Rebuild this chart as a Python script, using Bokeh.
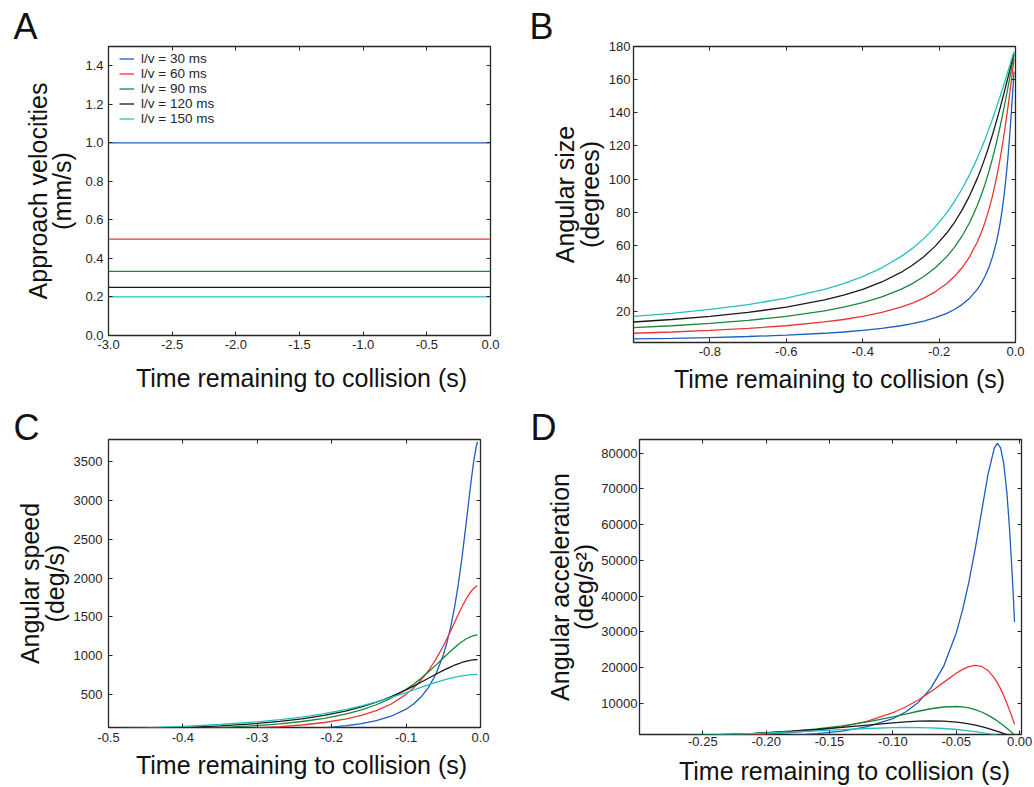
from bokeh.plotting import figure
from bokeh.layouts import column, row
from bokeh.models import (Range1d, FixedTicker, Legend, LegendItem, Label,
                          LinearAxis, NumeralTickFormatter)
from bokeh.embed import file_html
from bokeh.resources import INLINE

FONT = "Liberation Sans"
INK = "#262626"

# ---------------- data ----------------
series_names = ["l/v = 30 ms", "l/v = 60 ms", "l/v = 90 ms", "l/v = 120 ms", "l/v = 150 ms"]
colors = ["#1f5cbf", "#ee3535", "#17883c", "#1a1a1a", "#22c0c0"]

# Panel A: approach velocities (mm/s)
t_a = [-3.0, 0.0]
velocity = [1.0, 0.5, 0.333, 0.25, 0.2]

# Panel B: angular size (degrees)
t_b = [-1.0, -0.9, -0.8, -0.7, -0.6, -0.5, -0.45, -0.4, -0.35, -0.3, -0.27, -0.24,
       -0.21, -0.18, -0.16, -0.14, -0.12, -0.10, -0.09, -0.08, -0.07, -0.06, -0.05,
       -0.045, -0.04, -0.035, -0.03, -0.025, -0.02, -0.0175, -0.015, -0.0125, -0.01,
       -0.008, -0.006, -0.005, -0.004]
theta_30 = [3.44, 3.82, 4.30, 4.91, 5.73, 6.87, 7.63, 8.58, 9.80, 11.42, 12.68, 14.25,
            16.26, 18.93, 21.24, 24.19, 28.07, 33.40, 36.87, 41.11, 46.40, 53.13, 61.93,
            67.38, 73.74, 81.20, 90.00, 100.39, 112.62, 119.49, 126.87, 134.76, 143.13,
            150.14, 157.38, 161.08, 164.81]
theta_60 = [6.87, 7.63, 8.58, 9.80, 11.42, 13.69, 15.19, 17.06, 19.46, 22.62, 25.06, 28.07,
            31.89, 36.87, 41.11, 46.40, 53.13, 61.93, 67.38, 73.74, 81.20, 90.00, 100.39,
            106.26, 112.62, 119.49, 126.87, 134.76, 143.13, 147.48, 151.93, 156.46, 161.08,
            164.81, 168.58, 170.47, 172.37]
theta_90 = [10.29, 11.42, 12.84, 14.65, 17.06, 20.41, 22.62, 25.36, 28.84, 33.40, 36.87, 41.11,
            46.40, 53.13, 58.72, 65.47, 73.74, 83.97, 90.00, 96.73, 104.25, 112.62, 121.89,
            126.87, 132.08, 137.50, 143.13, 148.95, 154.94, 157.99, 161.08, 164.19, 167.32,
            169.84, 172.37, 173.64, 174.91]
theta_120 = [13.69, 15.19, 17.06, 19.46, 22.62, 26.99, 29.86, 33.40, 37.85, 43.60, 47.92, 53.13,
             59.49, 67.38, 73.74, 81.20, 90.00, 100.39, 106.26, 112.62, 119.49, 126.87, 134.76,
             138.89, 143.13, 147.48, 151.93, 156.46, 161.08, 163.41, 165.75, 168.11, 170.47,
             172.37, 174.28, 175.23, 176.18]
theta_150 = [17.06, 18.93, 21.24, 24.19, 28.07, 33.40, 36.87, 41.11, 46.40, 53.13, 58.11, 64.01,
             71.08, 79.61, 86.31, 93.95, 102.68, 112.62, 118.07, 123.86, 129.97, 136.40, 143.13,
             146.60, 150.14, 153.73, 157.38, 161.08, 164.81, 166.69, 168.58, 170.47, 172.37,
             173.89, 175.42, 176.18, 176.95]

# Panel C: angular speed (deg/s)
t_c = [-0.5, -0.45, -0.4, -0.35, -0.3, -0.27, -0.24, -0.21, -0.18, -0.16, -0.14, -0.12,
       -0.10, -0.09, -0.08, -0.07, -0.06, -0.05, -0.045, -0.04, -0.035, -0.03, -0.025,
       -0.02, -0.0175, -0.015, -0.0125, -0.01, -0.008, -0.006, -0.005, -0.004]
omega_30 = [13.70, 16.90, 21.37, 27.86, 37.82, 46.58, 58.77, 76.39, 103.24, 129.72, 167.69,
            224.69, 315.39, 381.97, 470.92, 592.71, 763.94, 1011.1, 1175.3, 1375.1, 1617.8,
            1909.9, 2254.3, 2644.4, 2849.9, 3055.8, 3254.6, 3437.7, 3566.1, 3672.8, 3716.5, 3753.0]
omega_60 = [27.11, 33.36, 42.03, 54.53, 73.46, 89.88, 112.35, 144.14, 190.99, 235.47, 296.36,
            381.98, 505.56, 587.66, 687.56, 808.90, 954.95, 1127.2, 1222.3, 1322.2, 1425.0,
            1527.9, 1627.4, 1718.9, 1760.2, 1797.6, 1830.5, 1858.3, 1876.5, 1891.0, 1896.7, 1901.4]
omega_90 = [39.96, 48.97, 61.35, 78.97, 105.13, 127.32, 156.97, 197.57, 254.64, 306.02, 372.31,
            458.35, 569.77, 636.6, 711.24, 793.30, 881.45, 972.92, 1018.6, 1063.2, 1105.9,
            1145.9, 1182.0, 1213.3, 1226.8, 1238.8, 1249.1, 1257.7, 1263.2, 1267.6, 1269.3, 1270.7]
omega_120 = [52.01, 63.40, 78.84, 100.44, 131.71, 157.51, 190.98, 235.05, 293.82, 343.76, 404.43,
             477.45, 563.55, 611.14, 661.08, 712.46, 763.92, 813.64, 837.17, 859.41, 880.04,
             898.73, 915.18, 929.09, 935.02, 940.21, 944.65, 948.31, 950.67, 952.52, 953.25, 953.84]
omega_150 = [63.07, 76.39, 94.18, 118.54, 152.78, 180.17, 214.58, 258.07, 313.07, 357.33, 408.26,
             465.79, 528.85, 561.69, 594.71, 627.29, 658.53, 687.51, 700.83, 713.18, 724.46,
             734.52, 743.25, 750.56, 753.64, 756.34, 758.63, 760.52, 761.73, 762.68, 763.05, 763.36]

# Panel D: angular acceleration (deg/s^2)
t_d = [-0.3, -0.27, -0.24, -0.21, -0.18, -0.16, -0.14, -0.12, -0.10, -0.09, -0.08, -0.07,
       -0.06, -0.05, -0.045, -0.04, -0.035, -0.03, -0.025, -0.02, -0.0175, -0.015, -0.0125,
       -0.01, -0.008, -0.006, -0.005, -0.004]
alpha_30 = [249.6, 340.8, 482.2, 713.0, 1116.1, 1566.5, 2290.5, 3524.6, 5786.9, 7639.4, 10321.7,
            14307, 20372, 29738, 36163, 44003, 53291, 63662, 73910, 81367, 82693, 81487, 77034,
            68755, 59189, 47087, 40178, 32777]
alpha_60 = [470.9, 634.4, 881.1, 1269.2, 1909.9, 2580.4, 3576.7, 5093.0, 7434.6, 9040.8, 11000.8,
            13323, 15915.5, 18477, 19557, 20342, 20673, 20372, 19258, 17189, 15771, 14098, 12182,
            10044, 8194.3, 6240.8, 5232.3, 4206.6]
alpha_90 = [643.0, 848.8, 1146.8, 1589.6, 2263.5, 2905.9, 3763.5, 4889.2, 6296.0, 7073.5, 7848.3,
            8543.4, 9040.7, 9178.7, 9054.1, 8768.8, 8302.2, 7639.4, 6773.7, 5709.7, 5108.1, 4464.2,
            3782.4, 3067.6, 2475.7, 1869.6, 1562.2, 1252.5]
alpha_120 = [757.0, 974.3, 1273.2, 1687.6, 2260.2, 2750.2, 3330.7, 3978.9, 4619.4, 4889.2, 5085.4,
             5168.3, 5093.0, 4814.6, 4587.4, 4297.2, 3942.7, 3524.6, 3045.6, 2511.1, 2225.4, 1928.7,
             1622.5, 1308.1, 1051.7, 791.8, 660.8, 529.3]
alpha_150 = [814.9, 1019.9, 1286.0, 1627.6, 2053.1, 2377.5, 2715.5, 3029.7, 3254.7, 3304.3, 3292.9,
             3205.4, 3028.0, 2750.2, 2572.0, 2367.6, 2137.6, 1883.5, 1607.2, 1311.1, 1156.7, 998.5,
             837.2, 673.1, 540.2, 406.2, 338.8, 271.2]

ticks_a_x = [-3.0, -2.5, -2.0, -1.5, -1.0, -0.5, 0.0]
ticks_a_y = [0.0, 0.2, 0.4, 0.6, 0.8, 1.0, 1.2, 1.4]
ticks_b_x = [-0.8, -0.6, -0.4, -0.2, 0.0]
ticks_b_y = [20, 40, 60, 80, 100, 120, 140, 160, 180]
ticks_c_x = [-0.5, -0.4, -0.3, -0.2, -0.1, 0.0]
ticks_c_y = [500, 1000, 1500, 2000, 2500, 3000, 3500]
ticks_d_x = [-0.25, -0.20, -0.15, -0.10, -0.05, 0.0]
ticks_d_y = [10000, 20000, 30000, 40000, 50000, 60000, 70000, 80000]

x_title = "Time remaining to collision (s)"
y_titles = ["Approach velocities\n(mm/s)", "Angular size\n(degrees)",
            "Angular speed\n(deg/s)", "Angular acceleration\n(deg/s\u00b2)"]
letters = ["A", "B", "C", "D"]


# ---------------- helpers ----------------
def make_panel(w, h, xr, yr, borders, xticks, yticks, xfmt, yfmt, ytitle, xstand, ystand):
    left, right, top, bottom = borders
    p = figure(width=w, height=h, x_range=Range1d(*xr), y_range=Range1d(*yr),
               output_backend="svg", toolbar_location=None,
               min_border_left=left, min_border_right=right,
               min_border_top=top, min_border_bottom=bottom)
    # each panel keeps its own frame (no alignment of frames across the grid)
    if "frame_align" in p.properties():
        p.frame_align = False
    p.xgrid.visible = False
    p.ygrid.visible = False
    p.outline_line_color = INK
    p.outline_line_width = 1.3
    p.outline_line_alpha = 1.0
    p.background_fill_color = "white"
    p.border_fill_color = "white"
    top_ax = LinearAxis()
    right_ax = LinearAxis()
    p.add_layout(top_ax, "above")
    p.add_layout(right_ax, "right")
    p.xaxis.ticker = FixedTicker(ticks=xticks)
    p.yaxis.ticker = FixedTicker(ticks=yticks)
    p.xaxis.formatter = NumeralTickFormatter(format=xfmt)
    p.yaxis.formatter = NumeralTickFormatter(format=yfmt)
    for ax in p.axis:
        ax.axis_line_color = None
        ax.major_tick_in = 4
        ax.major_tick_out = 0
        ax.major_tick_line_color = INK
        ax.major_tick_line_width = 1
        ax.minor_tick_line_color = None
        ax.major_label_text_font = FONT
        ax.major_label_text_font_size = "13px"
        ax.major_label_text_color = INK
    for ax in (top_ax, right_ax):
        ax.major_label_text_font_size = "1px"
        ax.major_label_text_color = None
        ax.major_label_standoff = 0
    bx, by = p.below[0], p.left[0]
    bx.major_label_standoff = xstand
    by.major_label_standoff, by.axis_label_standoff = ystand
    by.axis_label = ytitle
    by.axis_label_text_font = FONT
    by.axis_label_text_font_size = "25px"
    by.axis_label_text_font_style = "normal"
    by.axis_label_text_color = "#111111"
    by.axis_label_text_line_height = 0.88
    return p


def side_text(p, place, x, y, dx, dy, text, size, align):
    # text placed in a side panel, anchored to a frame position (data units) plus a pixel offset
    p.add_layout(Label(x=x, y=y, x_offset=dx, y_offset=dy, text=text,
                       text_font=FONT, text_font_size=size, text_color="#111111",
                       text_align=align, text_baseline="middle"), place)


def decorate(p, xr, yr, letter, letter_dx, letter_dy, title_dx, title_dy):
    side_text(p, "above", xr[0], yr[1], letter_dx, letter_dy, letter, "36px", "left")
    side_text(p, "below", (xr[0] + xr[1]) / 2, yr[0], title_dx, title_dy, x_title, "25px", "center")


# ---------------- panel A ----------------
xr_a, yr_a = (-3.0, 0.0), (0.0, 1.5)
pa = make_panel(525, 397, xr_a, yr_a, (108, 35, 46, 62),
                ticks_a_x, ticks_a_y, "0.0", "0.0", y_titles[0], 4, (5, 6))
decorate(pa, xr_a, yr_a, letters[0], -95, 20, 2, -42)
rend_a = []
for v, c in zip(velocity, colors):
    rend_a.append(pa.line(t_a, [v, v], line_color=c, line_width=1.3))
legend = Legend(items=[LegendItem(label=n, renderers=[r]) for n, r in zip(series_names, rend_a)],
                location=(11, 209), border_line_color=None, background_fill_alpha=0,
                padding=0, margin=0, spacing=0, glyph_width=15, glyph_height=15,
                label_height=15, label_standoff=7, label_text_font=FONT,
                label_text_font_size="13.5px", label_text_color=INK)
pa.add_layout(legend)

# ---------------- panel B ----------------
xr_b, yr_b = (-1.0, 0.0), (1.3, 180.0)
pb = make_panel(508, 397, xr_b, yr_b, (108, 18, 46, 55),
                ticks_b_x, ticks_b_y, "0.0", "0", y_titles[1], 4, (3, 2))
decorate(pb, xr_b, yr_b, letters[1], -104, 20, 15, -36)
for ys, c in zip([theta_30, theta_60, theta_90, theta_120, theta_150], colors):
    pb.line(t_b, ys, line_color=c, line_width=1.3)

# ---------------- panel C ----------------
xr_c, yr_c = (-0.5, 0.0), (80.0, 3780.0)
pc = make_panel(525, 390, xr_c, yr_c, (108, 45, 42, 60),
                ticks_c_x, ticks_c_y, "0.0", "0", y_titles[2], 5, (6, 2))
decorate(pc, xr_c, yr_c, letters[2], -95, 12, 7, -37)
for ys, c in zip([omega_30, omega_60, omega_90, omega_120, omega_150], colors):
    pc.line(t_c, ys, line_color=c, line_width=1.3)

# ---------------- panel D ----------------
xr_d, yr_d = (-0.3, 0.0015), (1350.0, 83800.0)
pd_ = make_panel(508, 390, xr_d, yr_d, (114, 12, 42, 53),
                 ticks_d_x, ticks_d_y, "0.00", "0", y_titles[3], 2, (2, 0))
decorate(pd_, xr_d, yr_d, letters[3], -109, 12, 14, -36)
for ys, c in zip([alpha_30, alpha_60, alpha_90, alpha_120, alpha_150], colors):
    pd_.line(t_d, ys, line_color=c, line_width=1.3)

layout = column(row(pa, pb), row(pc, pd_))
open("out.html", "w").write(file_html(layout, INLINE))
